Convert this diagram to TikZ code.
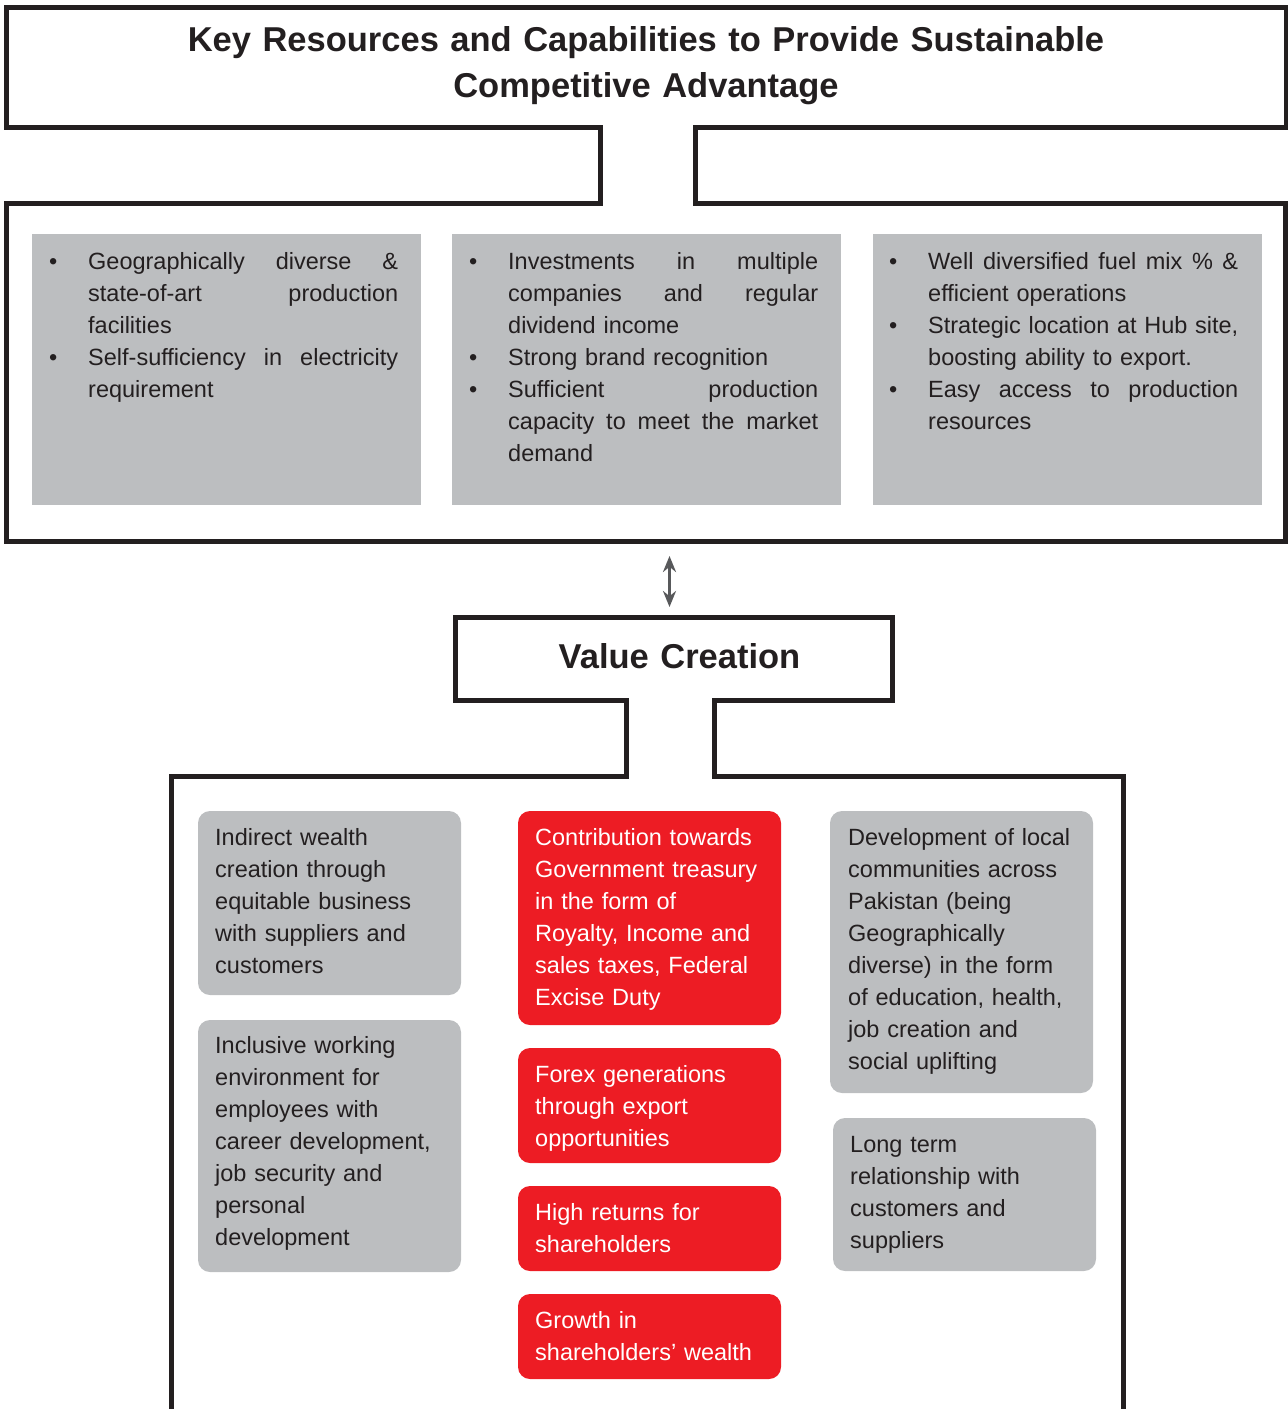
\documentclass[tikz,border=0pt]{standalone}
\usepackage{fontspec}
\setmainfont{Liberation Sans}
\usetikzlibrary{arrows.meta}
\definecolor{framedark}{HTML}{231F20}
\definecolor{boxgrey}{HTML}{BCBEC0}
\definecolor{boxred}{HTML}{ED1C24}
\definecolor{arrowgrey}{HTML}{58595B}
\hyphenpenalty=10000
\exhyphenpenalty=10000
\tikzset{
  frameline/.style={draw=framedark, line width=5pt, line join=miter},
  greybox/.style={fill=boxgrey},
  greyround/.style={fill=boxgrey, rounded corners=12pt},
  redround/.style={fill=boxred, rounded corners=12pt},
  keytext/.style={anchor=base west, inner sep=0pt, text width=310pt, text=framedark, font=\fontsize{23.5}{32}\selectfont},
  valtext/.style={anchor=base west, inner sep=0pt, text width=240pt, align=left, text=framedark, font=\fontsize{23.5}{32}\selectfont},
  redtext/.style={valtext, text=white},
  headtext/.style={anchor=base, inner sep=0pt, text width=1200pt, align=center, text=framedark, font=\bfseries\fontsize{34.5}{46}\selectfont},
}
% one justified line of a key resources box, words split by \hfill
\newcommand{\keyline}[1]{\hbox to 310pt{#1}\par}
\newcommand{\keybullet}{\noindent\llap{\makebox[39pt][l]{\textbullet}}}
\begin{document}
\begin{tikzpicture}[x=1pt, y=-1pt]
\useasboundingbox (0,0) rectangle (1288,1409);
% key resources frame
\draw[frameline] (6,7) -- (1286,7) -- (1286,127.5) -- (695,127.5) -- (695,203) -- (1285,203) -- (1285,541.5) -- (6,541.5) -- (6,203) -- (600,203) -- (600,127.5) -- (6,127.5) -- cycle;
\node[headtext] (keyhead) at (646,51) {Key Resources and Capabilities to Provide Sustainable\\Competitive Advantage};
\fill[greybox] (32,234) rectangle (421,505);
\fill[greybox] (452,234) rectangle (841,505);
\fill[greybox] (873,234) rectangle (1262,505);
\node[keytext] (keyleft) at (88,269.5) {\keybullet\keyline{Geographically\hfill diverse\hfill\&}
  \noindent\keyline{state-of-art\hfill production}
  \noindent facilities\par
  \keybullet\keyline{Self-sufficiency\hfill in\hfill electricity}
  \noindent requirement};
\node[keytext] (keymid) at (508,269.5) {\keybullet\keyline{Investments\hfill in\hfill multiple}
  \noindent\keyline{companies\hfill and\hfill regular}
  \noindent dividend income\par
  \keybullet Strong brand recognition\par
  \keybullet\keyline{Sufficient\hfill production}
  \noindent\keyline{capacity\hfill to\hfill meet\hfill the\hfill market}
  \noindent demand};
\node[keytext] (keyright) at (928,269.5) {\keybullet\keyline{Well\hfill diversified\hfill fuel\hfill mix\hfill \%\hfill \&}
  \noindent efficient operations\par
  \keybullet\keyline{Strategic\hfill location\hfill at\hfill Hub\hfill site,}
  \noindent boosting ability to export.\par
  \keybullet\keyline{Easy\hfill access\hfill to\hfill production}
  \noindent resources};
% link between the two frames
\coordinate (keylink) at (669.5,556);
\coordinate (valuelink) at (669.5,607);
\draw[arrowgrey, line width=3pt, {Stealth[length=16pt,width=13pt]}-{Stealth[length=16pt,width=13pt]}] (keylink) -- (valuelink);
% value creation frame
\draw[frameline] (1123,1420) -- (1123,776.5) -- (714,776.5) -- (714,700) -- (892.5,700) -- (892.5,617.5) -- (455,617.5) -- (455,700) -- (626.5,700) -- (626.5,776.5) -- (171.5,776.5) -- (171.5,1420);
\node[headtext] (valuehead) at (679.5,668) {Value Creation};
\fill[greyround] (198,811) rectangle (461,995);
\fill[greyround] (198,1020) rectangle (461,1272);
\fill[redround] (518,811) rectangle (781,1025);
\fill[redround] (518,1048) rectangle (781,1163);
\fill[redround] (518,1186) rectangle (781,1271);
\fill[redround] (518,1294) rectangle (781,1379);
\fill[greyround] (830,811) rectangle (1093,1093);
\fill[greyround] (833,1118) rectangle (1096,1271);
\node[valtext] (valleft1) at (215,845.5) {Indirect wealth\\creation through\\equitable business\\with suppliers and\\customers};
\node[valtext] (valleft2) at (215,1053.5) {Inclusive working\\environment for\\employees with\\career development,\\job security and\\personal\\development};
\node[redtext] (valmid1) at (535,845.5) {Contribution towards\\Government treasury\\in the form of\\Royalty, Income and\\sales taxes, Federal\\Excise Duty};
\node[redtext] (valmid2) at (535,1082.5) {Forex generations\\through export\\opportunities};
\node[redtext] (valmid3) at (535,1220.5) {High returns for\\shareholders};
\node[redtext] (valmid4) at (535,1328.5) {Growth in\\shareholders’ wealth};
\node[valtext] (valright1) at (848,845.5) {Development of local\\communities across\\Pakistan (being\\Geographically\\diverse) in the form\\of education, health,\\job creation and\\social uplifting};
\node[valtext] (valright2) at (850,1152.5) {Long term\\relationship with\\customers and\\suppliers};
\end{tikzpicture}
\end{document}
